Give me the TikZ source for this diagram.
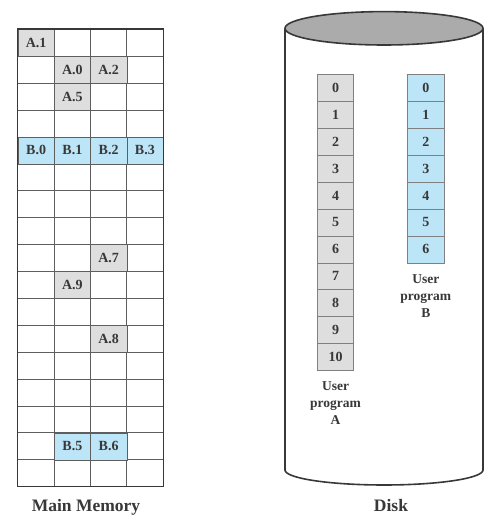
\documentclass[tikz,border=0pt]{standalone}
\usepackage{fontspec}
\setmainfont{Liberation Serif}
\usetikzlibrary{positioning}
\definecolor{cellgray}{HTML}{DEDEDE}
\definecolor{cellblue}{HTML}{BDE5F8}
\definecolor{linegray}{HTML}{5E5E5E}
\definecolor{diskgray}{HTML}{ABABAB}
\definecolor{inkgray}{HTML}{383838}
\begin{document}
\begin{tikzpicture}[
x=1pt, y=1pt,
node distance=26.9pt and 36.25pt,
on grid,
every node/.style={text=inkgray},
cell/.style={
draw=linegray,
minimum width=36.25pt,
minimum height=26.9pt,
inner sep=0pt,
font=\bfseries\fontsize{14}{14}\selectfont
},
gcell/.style={cell, fill=cellgray},
bcell/.style={cell, fill=cellblue},
pagecell/.style={gcell, draw=gray},
caption/.style={font=\bfseries\fontsize{17.5}{20}\selectfont},
progname/.style={align=center, font=\bfseries\fontsize{13.5}{17}\selectfont}
]
\useasboundingbox (0,0) rectangle (503,523);

% main memory frames
\node[minimum width=145pt, minimum height=457.4pt, inner sep=0pt] (mem) at (90.5,265) {};
\foreach \i in {1,...,16}
  \draw[linegray] ([yshift=-\i*26.906pt]mem.north west) -- ([yshift=-\i*26.906pt]mem.north east);
\foreach \i in {1,2,3}
  \draw[linegray] ([xshift=\i*36.25pt]mem.north west) -- ([xshift=\i*36.25pt]mem.south west);

\node[gcell] (a1) at (36.1,480.25) {A.1};
\node[gcell] (a0) at (72.4,453.35) {A.0};
\node[gcell, right=of a0] (a2) {A.2};
\node[gcell, below=of a0] (a5) {A.5};
\node[bcell] (b0) at (36.1,372.6) {B.0};
\node[bcell, right=of b0] (b1) {B.1};
\node[bcell, right=of b1] (b2) {B.2};
\node[bcell, right=of b2] (b3) {B.3};
\node[gcell] (a7) at (108.6,265.0) {A.7};
\node[gcell] (a9) at (72.4,238.1) {A.9};
\node[gcell] (a8) at (108.6,184.3) {A.8};
\node[bcell] (b5) at (72.4,76.7) {B.5};
\node[bcell, right=of b5] (b6) {B.6};
\draw[inkgray, line width=1.2pt] (mem.north west) rectangle (mem.south east);
\node[caption, anchor=base] (memname) at (86,12) {Main Memory};

% disk
\coordinate (dtop) at (384,494.7);
\filldraw[draw=inkgray, fill=white, line width=1.6pt] (285,494.7) -- (285,53)
  arc[start angle=180, end angle=360, x radius=99, y radius=15] -- (483,494.7);
\filldraw[draw=inkgray, fill=diskgray, line width=1.6pt] (dtop) ellipse[x radius=99, y radius=16.7];
\node[caption, anchor=base] (diskname) at (391,12) {Disk};

% user program A
\node[pagecell] (pa0) at (335.5,435.1) {0};
\node[pagecell, below=of pa0] (pa1) {1};
\node[pagecell, below=of pa1] (pa2) {2};
\node[pagecell, below=of pa2] (pa3) {3};
\node[pagecell, below=of pa3] (pa4) {4};
\node[pagecell, below=of pa4] (pa5) {5};
\node[pagecell, below=of pa5] (pa6) {6};
\node[pagecell, below=of pa6] (pa7) {7};
\node[pagecell, below=of pa7] (pa8) {8};
\node[pagecell, below=of pa8] (pa9) {9};
\node[pagecell, below=of pa9] (pa10) {10};
\node[progname, anchor=north] (proga) at ([yshift=-8pt]pa10.south) {User\\program\\A};

% user program B
\node[bcell, draw=gray] (pb0) at (425.8,435.1) {0};
\node[bcell, draw=gray, below=of pb0] (pb1) {1};
\node[bcell, draw=gray, below=of pb1] (pb2) {2};
\node[bcell, draw=gray, below=of pb2] (pb3) {3};
\node[bcell, draw=gray, below=of pb3] (pb4) {4};
\node[bcell, draw=gray, below=of pb4] (pb5) {5};
\node[bcell, draw=gray, below=of pb5] (pb6) {6};
\node[progname, anchor=north] (progb) at ([yshift=-8pt]pb6.south) {User\\program\\B};

\end{tikzpicture}
\end{document}
